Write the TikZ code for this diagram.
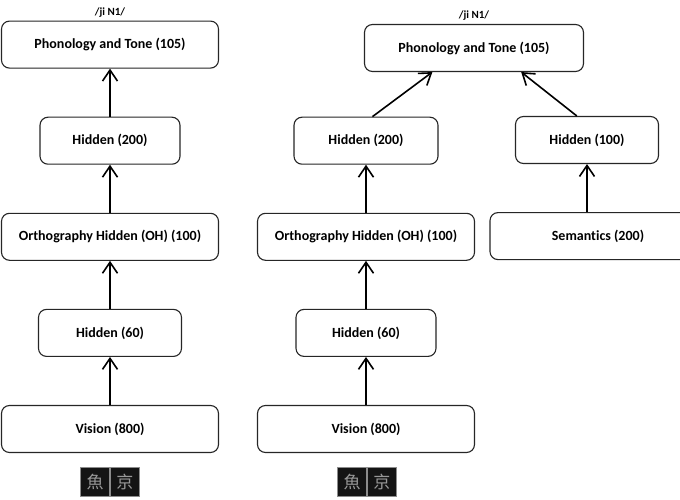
\documentclass[tikz,border=0pt]{standalone}
\usepackage{fontspec}
\setmainfont{Carlito}[Ligatures={NoCommon}]
\newfontfamily\cjk{Noto Sans CJK TC}
\usetikzlibrary{positioning}
\usetikzlibrary{arrows.meta}

\tikzset{
  layer/.style={draw=black!85, line width=1.1pt, rounded corners=8pt, fill=white,
    minimum height=47pt, inner sep=2pt, font=\bfseries\fontsize{14}{16}\selectfont},
  link/.style={line width=1.6pt, -{Straight Barb[length=11pt,width=15pt,line width=1.6pt]}},
  glyph/.style={fill=black!92, draw=black!45, line width=0.8pt, minimum size=29pt, inner sep=0pt,
    text=black!40, font=\cjk\fontsize{17}{17}\selectfont},
  ipa/.style={font=\bfseries\fontsize{11}{12}\selectfont}
}

\begin{document}
\begin{tikzpicture}[x=1pt, y=1pt]
  \useasboundingbox (0,0) rectangle (680,-500);
  \tikzset{node distance = 48pt and 15pt}

  % left model
  \node[layer, minimum width=217pt] (visL) at (110,-429) {Vision (800)};
  \node[layer, minimum width=143pt, above=of visL] (h60L) {Hidden (60)};
  \node[layer, minimum width=217pt, above=of h60L] (ohL) {Orthography Hidden (OH) (100)};
  \node[layer, minimum width=140pt, above=of ohL] (h200L) {Hidden (200)};
  \node[layer, minimum width=217pt, above=of h200L] (phonL) {Phonology and Tone (105)};
  \node[ipa, above=0pt of phonL] (ipaL) {/ji N1/};

  \node[glyph] (fishL) at (95,-482) {魚};
  \node[glyph, right=0pt of fishL] (jingL) {京};

  \draw[link] (visL) -- (h60L);
  \draw[link] (h60L) -- (ohL);
  \draw[link] (ohL) -- (h200L);
  \draw[link] (h200L) -- (phonL);

  % right model
  \node[layer, minimum width=217pt] (visR) at (366,-429) {Vision (800)};
  \node[layer, minimum width=140pt, above=of visR] (h60R) {Hidden (60)};
  \node[layer, minimum width=217pt, above=of h60R] (ohR) {Orthography Hidden (OH) (100)};
  \node[layer, minimum width=144pt, above=of ohR] (h200R) {Hidden (200)};
  \node[layer, minimum width=219pt] (phonR) at (474,-48) {Phonology and Tone (105)};
  \node[ipa, above=0pt of phonR] (ipaR) {/ji N1/};
  \node[layer, minimum width=143pt] (h100R) at (587,-140) {Hidden (100)};
  \node[layer, minimum width=216pt, below=of h100R, xshift=11pt] (semR) {Semantics (200)};

  \node[glyph] (fishR) at (352,-482) {魚};
  \node[glyph, right=0pt of fishR] (jingR) {京};

  \draw[link] (visR) -- (h60R);
  \draw[link] (h60R) -- (ohR);
  \draw[link] (ohR) -- (h200R);
  \draw[link] (h200R.75) -- (phonR.210);
  \draw[link] (semR.north -| h100R) -- (h100R);
  \draw[link] (h100R.113) -- (phonR.333);
\end{tikzpicture}
\end{document}
